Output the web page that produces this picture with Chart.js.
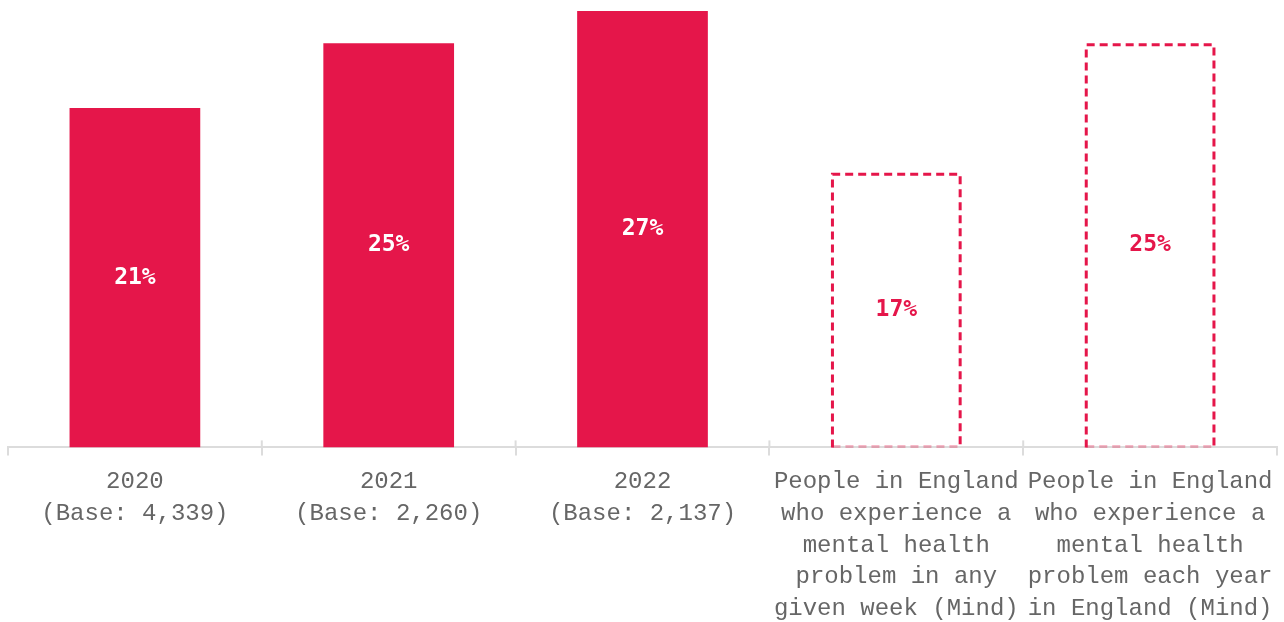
<!DOCTYPE html>
<html>
<head>
<meta charset="utf-8">
<script src="https://cdn.jsdelivr.net/npm/chart.js@4"></script>
<style>
  html, body { margin: 0; padding: 0; background: #fff; }
  #wrap { width: 1284px; height: 622px; }
</style>
</head>
<body>
<div id="wrap"><canvas id="myChart"></canvas></div>
<script>
const categories = [
  ["2020", "(Base: 4,339)"],
  ["2021", "(Base: 2,260)"],
  ["2022", "(Base: 2,137)"],
  ["People in England", "who experience a", "mental health", "problem in any", "given week (Mind)"],
  ["People in England", "who experience a", "mental health", "problem each year", "in England (Mind)"]
]
const values = [21, 25, 27, 17, 25]
const dashed = [false, false, false, true, true]

const red = "#e5164a"
const grey = "#666666"
const mono = "'Liberation Mono', 'DejaVu Sans Mono', monospace"
const monoBold = "'DejaVu Sans Mono', 'Liberation Mono', monospace"

// dashed outline for the reference bars + value labels
const barExtras = {
  id: "barExtras",
  afterDatasetsDraw(chart) {
    const ctx = chart.ctx
    const meta = chart.getDatasetMeta(0)
    meta.data.forEach(function (bar, i) {
      const left = bar.x - bar.width / 2
      const right = bar.x + bar.width / 2
      const top = bar.y
      const bottom = bar.base
      if (dashed[i]) {
        ctx.save()
        ctx.lineWidth = 3
        ctx.setLineDash([8, 5])
        ctx.strokeStyle = red
        ctx.beginPath()
        ctx.moveTo(left + 1.5, bottom)
        ctx.lineTo(left + 1.5, top + 1.5)
        ctx.lineTo(right - 1.5, top + 1.5)
        ctx.lineTo(right - 1.5, bottom)
        ctx.stroke()
        ctx.strokeStyle = "rgba(229,22,74,0.3)"
        ctx.beginPath()
        ctx.moveTo(left + 1.5, bottom - 1)
        ctx.lineTo(right - 1.5, bottom - 1)
        ctx.stroke()
        ctx.restore()
      }
      ctx.save()
      ctx.font = "bold 23px " + monoBold
      ctx.fillStyle = dashed[i] ? red : "#ffffff"
      ctx.textAlign = "center"
      ctx.textBaseline = "middle"
      ctx.fillText(values[i] + "%", bar.x, (top + bottom) / 2)
      ctx.restore()
    })

    // small tick marks that poke above the axis
    const xs = chart.scales.x
    ctx.save()
    ctx.strokeStyle = "#dcdcdc"
    ctx.lineWidth = 2
    for (let k = 1; k < categories.length; k += 1) {
      const px = (xs.getPixelForTick(k - 1) + xs.getPixelForTick(k)) / 2
      ctx.beginPath()
      ctx.moveTo(px, xs.top - 7)
      ctx.lineTo(px, xs.top)
      ctx.stroke()
    }
    ctx.restore()
  }
}

new Chart(document.getElementById("myChart"), {
  type: "bar",
  data: {
    labels: categories,
    datasets: [{
      data: values,
      backgroundColor: dashed.map(d => d ? "rgba(0,0,0,0)" : red),
      borderWidth: 0,
      barPercentage: 0.515,
      categoryPercentage: 1
    }]
  },
  options: {
    responsive: true,
    maintainAspectRatio: false,
    animation: false,
    layout: { padding: { top: 11, left: 8, right: 7, bottom: -13 } },
    plugins: {
      legend: { display: false },
      tooltip: { enabled: false }
    },
    scales: {
      x: {
        offset: true,
        grid: {
          offset: true,
          drawOnChartArea: false,
          color: "#dcdcdc",
          lineWidth: 2,
          tickLength: 8
        },
        border: { color: "#dcdcdc", width: 2 },
        ticks: {
          color: grey,
          font: { family: mono, size: 24, lineHeight: 1.33 },
          padding: 10,
          maxRotation: 0,
          autoSkip: false
        }
      },
      y: {
        display: false,
        min: 0,
        max: 27
      }
    }
  },
  plugins: [barExtras]
})
</script>
</body>
</html>
